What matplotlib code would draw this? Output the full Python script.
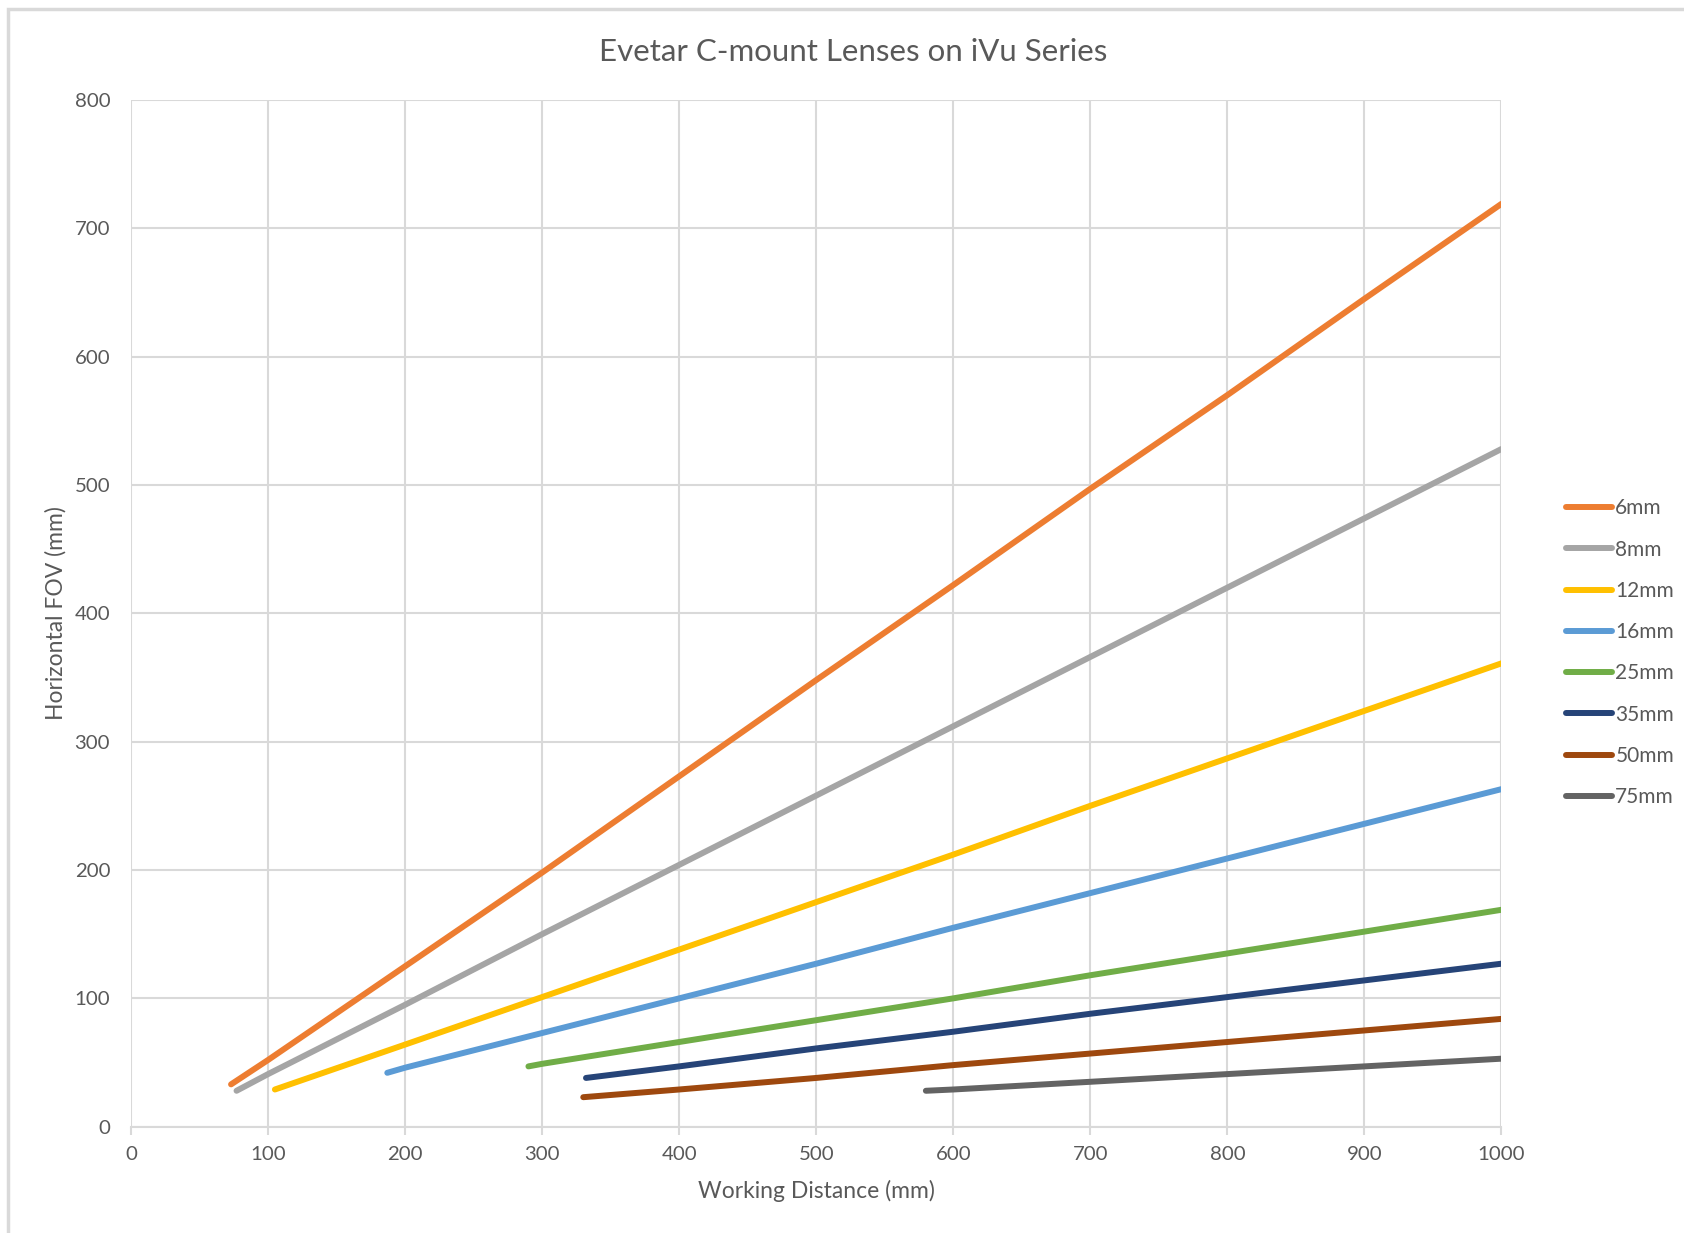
import matplotlib.pyplot as plt
from matplotlib.patches import Rectangle

plt.rcParams['font.family'] = ['Lato', 'DejaVu Sans']

# Working distance (mm) and horizontal FOV (mm)
labels = ['6mm', '8mm', '12mm', '16mm', '25mm', '35mm', '50mm', '75mm']
colors = ['#ED7D31', '#A5A5A5', '#FFC000', '#5B9BD5', '#70AD47', '#264478', '#9E480E', '#636363']

wd_6 = [73, 100, 200, 300, 400, 500, 600, 700, 800, 900, 1000]
fov_6 = [33, 52, 125, 198, 273, 348, 422, 497, 570, 645, 719]
wd_8 = [77, 100, 200, 300, 400, 500, 600, 700, 800, 900, 1000]
fov_8 = [28, 41, 95, 150, 204, 258, 312, 366, 420, 474, 528]
wd_12 = [105, 200, 300, 400, 500, 600, 700, 800, 900, 1000]
fov_12 = [29, 64, 101, 138, 175, 212, 250, 287, 324, 361]
wd_16 = [187, 200, 300, 400, 500, 600, 700, 800, 900, 1000]
fov_16 = [42, 46, 73, 100, 127, 155, 182, 209, 236, 263]
wd_25 = [290, 300, 400, 500, 600, 700, 800, 900, 1000]
fov_25 = [47, 49, 66, 83, 100, 118, 135, 152, 169]
wd_35 = [332, 400, 500, 600, 700, 800, 900, 1000]
fov_35 = [38, 47, 61, 74, 88, 101, 114, 127]
wd_50 = [330, 400, 500, 600, 700, 800, 900, 1000]
fov_50 = [23, 29, 38, 48, 57, 66, 75, 84]
wd_75 = [580, 600, 700, 800, 900, 1000]
fov_75 = [28, 29, 35, 41, 47, 53]

series = [(wd_6, fov_6), (wd_8, fov_8), (wd_12, fov_12), (wd_16, fov_16),
          (wd_25, fov_25), (wd_35, fov_35), (wd_50, fov_50), (wd_75, fov_75)]

text_color = '#595959'
grid_color = '#D9D9D9'

fig = plt.figure(figsize=(16.84, 12.33), dpi=100)
ax = fig.add_axes([0.0778, 0.0862, 0.8138, 0.8328])

for (x, y), lab, c in zip(series, labels, colors):
    ax.plot(x, y, color=c, linewidth=4.3, solid_capstyle='round', label=lab)

ax.set_xlim(0, 1000)
ax.set_ylim(0, 800)
ax.set_xticks(range(0, 1001, 100))
ax.set_yticks(range(0, 801, 100))
ax.grid(True, color=grid_color, linewidth=1.5)
ax.set_axisbelow(True)
for s in ['top', 'right', 'left']:
    ax.spines[s].set_visible(False)
ax.spines['bottom'].set_color(grid_color)
ax.spines['bottom'].set_linewidth(1.5)
ax.tick_params(axis='x', colors=text_color, labelsize=14.7, length=6, width=1.5,
               color=grid_color, pad=8)
ax.tick_params(axis='y', colors=text_color, labelsize=14.7, length=0, pad=15)

# title sits centred on the whole chart area, not just the plot
ax.set_title('Evetar C-mount Lenses on iVu Series', fontsize=22.5, color=text_color,
             pad=28, x=0.527)
ax.set_xlabel('Working Distance (mm)', fontsize=16.5, color=text_color, labelpad=12)
ax.set_ylabel('Horizontal FOV (mm)', fontsize=16.5, color=text_color, labelpad=6)

ax.legend(loc='upper left', bbox_to_anchor=(0.919, 0.611), bbox_transform=fig.transFigure,
          frameon=False, fontsize=15, handlelength=2.2, handletextpad=0.15,
          labelspacing=1.02, labelcolor=text_color)

# chart border like the spreadsheet frame
fig.patches.append(Rectangle((0.005, -0.01), 1.1, 1.003, transform=fig.transFigure,
                             fill=False, edgecolor='#D9D9D9', linewidth=2.5))

fig.savefig('out.png', dpi=100)
